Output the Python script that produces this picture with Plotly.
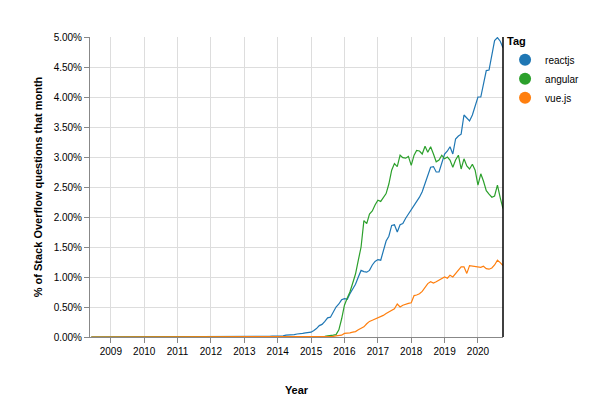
import plotly.graph_objects as go
import pandas as pd

start = "2008-06-01"
zeros_before_2013 = [0.0] * (7 + 12 * 4)  # Jun 2008 .. Dec 2012

react_2013 = [0, 0, 0, 0, 0, 0.005, 0.005, 0.01, 0.01, 0.01, 0.015, 0.015]
react_2014 = [0.02, 0.02, 0.02, 0.03, 0.03, 0.04, 0.04, 0.05, 0.05, 0.06, 0.07, 0.07]
react_2015 = [0.08, 0.11, 0.14, 0.19, 0.21, 0.26, 0.32, 0.33, 0.42, 0.5, 0.55, 0.62]
react_2016 = [0.64, 0.63, 0.72, 0.8, 0.88, 1.0, 1.11, 1.09, 1.08, 1.11, 1.2, 1.26]
react_2017 = [1.29, 1.28, 1.42, 1.6, 1.68, 1.86, 1.87, 1.75, 1.87, 1.89, 1.98, 2.05]
react_2018 = [2.1, 2.18, 2.26, 2.33, 2.42, 2.55, 2.67, 2.83, 2.84, 2.75, 2.75, 2.92]
react_2019 = [3.05, 3.1, 3.17, 3.05, 3.3, 3.35, 3.38, 3.7, 3.65, 3.6, 3.7, 3.83]
react_2020 = [4.0, 4.0, 4.2, 4.44, 4.45, 4.7, 4.94, 4.99, 4.93, 4.82]

ang_2013 = [0.0] * 12
ang_2014 = [0.0] * 12
ang_2015 = [0, 0, 0, 0, 0.01, 0.01, 0.02, 0.02, 0.03, 0.04, 0.12, 0.3]
ang_2016 = [0.53, 0.65, 0.75, 0.9, 1.05, 1.28, 1.5, 1.94, 1.89, 2.05, 2.1, 2.2]
ang_2017 = [2.28, 2.26, 2.33, 2.39, 2.55, 2.78, 2.89, 2.84, 3.03, 2.99, 2.98, 3.01]
ang_2018 = [2.86, 3.03, 3.11, 3.1, 3.05, 3.18, 3.08, 3.17, 3.05, 2.92, 2.95, 3.03]
ang_2019 = [2.97, 3.0, 2.95, 2.83, 2.95, 3.03, 2.8, 2.97, 2.85, 2.8, 2.88, 2.78]
ang_2020 = [2.53, 2.72, 2.6, 2.44, 2.38, 2.33, 2.35, 2.53, 2.32, 2.14]

vue_2013 = [0.0] * 12
vue_2014 = [0.0] * 12
vue_2015 = [0, 0, 0, 0, 0, 0, 0.005, 0.01, 0.01, 0.02, 0.02, 0.03]
vue_2016 = [0.06, 0.06, 0.07, 0.08, 0.09, 0.12, 0.14, 0.17, 0.22, 0.26, 0.28, 0.3]
vue_2017 = [0.31, 0.33, 0.36, 0.39, 0.42, 0.45, 0.47, 0.55, 0.5, 0.53, 0.55, 0.56]
vue_2018 = [0.57, 0.69, 0.7, 0.72, 0.76, 0.82, 0.89, 0.92, 0.9, 0.92, 0.95, 0.98]
vue_2019 = [1.0, 0.98, 1.03, 1.0, 1.05, 1.11, 1.17, 1.17, 1.06, 1.19, 1.18, 1.17]
vue_2020 = [1.17, 1.16, 1.18, 1.14, 1.13, 1.15, 1.2, 1.28, 1.24, 1.19]

series = {
    "reactjs": zeros_before_2013 + react_2013 + react_2014 + react_2015 + react_2016 + react_2017 + react_2018 + react_2019 + react_2020,
    "angular": zeros_before_2013 + ang_2013 + ang_2014 + ang_2015 + ang_2016 + ang_2017 + ang_2018 + ang_2019 + ang_2020,
    "vue.js": zeros_before_2013 + vue_2013 + vue_2014 + vue_2015 + vue_2016 + vue_2017 + vue_2018 + vue_2019 + vue_2020,
}
colors = {"reactjs": "#1f77b4", "angular": "#2ca02c", "vue.js": "#ff7f0e"}
n = len(series["reactjs"])
dates = pd.date_range(start, periods=n, freq="MS")
year_ticks = [f"{y}-01-01" for y in range(2009, 2021)]
year_labels = [str(y) for y in range(2009, 2021)]

fig = go.Figure()
for name, vals in series.items():
    fig.add_trace(go.Scatter(x=dates, y=[v / 100 for v in vals], mode="lines",
                             line=dict(color=colors[name], width=1.2), showlegend=False))
    fig.add_trace(go.Scatter(x=[None], y=[None], mode="markers", name=name,
                             marker=dict(color=colors[name], size=9, symbol="circle")))

fig.add_shape(type="line", xref="paper", yref="paper", x0=1, x1=1, y0=0, y1=1,
              line=dict(color="black", width=1.5))

fig.update_layout(
    width=609, height=412, margin=dict(l=82, r=114, t=29, b=83, autoexpand=False),
    plot_bgcolor="white", paper_bgcolor="white",
    font=dict(family="Liberation Sans, Arial, sans-serif", size=11, color="black"),
    legend=dict(x=1.005, y=1.02, xanchor="left", yanchor="top",
                title=dict(text="<b>Tag</b>", font=dict(size=11)),
                font=dict(size=10), itemwidth=30, tracegroupgap=0, itemsizing="constant"),
    xaxis=dict(range=[dates[0] - pd.Timedelta(days=14), dates[-1]],
               tickvals=year_ticks, ticktext=year_labels,
               showgrid=True, gridcolor="#dddddd", gridwidth=1,
               showline=True, linecolor="#888888", ticks="outside", tickcolor="#888888", ticklen=5,
               tickfont=dict(size=10), title=dict(text="<b>Year</b>", font=dict(size=11), standoff=30)),
    yaxis=dict(range=[0, 0.05], dtick=0.005, tickformat=".2%",
               showgrid=True, gridcolor="#dddddd", gridwidth=1, zeroline=False,
               showline=True, linecolor="#888888", ticks="outside", tickcolor="#888888", ticklen=5,
               tickfont=dict(size=10),
               title=dict(text="<b>% of Stack Overflow questions that month</b>", font=dict(size=11), standoff=8)),
)
fig.write_html("out.html")
